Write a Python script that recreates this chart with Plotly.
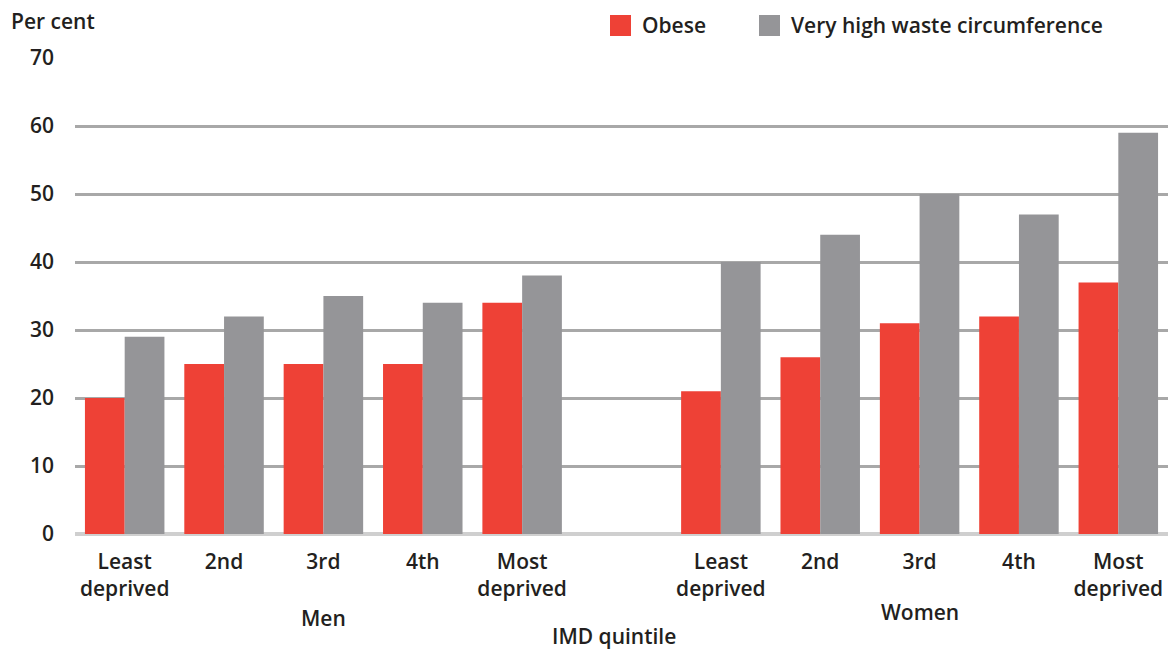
import plotly.graph_objects as go

# Quintile labels shared by both sexes
quintiles = ["Least<br>deprived", "2nd", "3rd", "4th", "Most<br>deprived"]
groups = ["Men", "Women"]

# Per cent of adults, by IMD quintile
men_obese = [20, 25, 25, 25, 34]
men_waist = [29, 32, 35, 34, 38]
women_obese = [21, 26, 31, 32, 37]
women_waist = [40, 44, 50, 47, 59]

series_names = ["Obese", "Very high waste circumference"]
y_ticks = [0, 10, 20, 30, 40, 50, 60, 70]

RED = "#EE4136"
GREY = "#959598"
TEXT = "#231F20"
FONT = "Open Sans"

# Men occupy slots 0-4, one empty slot, women occupy slots 6-10
men_x = list(range(len(quintiles)))
women_x = [len(quintiles) + 1 + i for i in range(len(quintiles))]
all_x = men_x + women_x

fig = go.Figure()
fig.add_trace(go.Bar(x=all_x, y=men_obese + women_obese, name=series_names[0],
                     marker=dict(color=RED, line=dict(width=0)), showlegend=False))
fig.add_trace(go.Bar(x=all_x, y=men_waist + women_waist, name=series_names[1],
                     marker=dict(color=GREY, line=dict(width=0)), showlegend=False))

W, H = 1173, 652
ml, mr, mt, mb = 75, 5, 58, 118
pw, ph = W - ml - mr, H - mt - mb

def px_x(p):
    return (p - ml) / pw

def px_y(p):
    return (H - mb - p) / ph

font = dict(family=FONT, size=21, color=TEXT, weight=600)

annotations = [
    dict(text="Per cent", xref="paper", yref="paper", x=px_x(9), y=px_y(21),
         xanchor="left", yanchor="middle", showarrow=False, font=font),
    dict(text="IMD quintile", xref="paper", yref="paper", x=px_x(614), y=px_y(651),
         xanchor="center", yanchor="bottom", showarrow=False, font=font,
         borderpad=0),
]
for name, xs, ypx in zip(groups, [men_x, women_x], [618, 612]):
    annotations.append(dict(text=name, xref="x", yref="paper", x=sum(xs) / len(xs),
                            y=px_y(ypx), xanchor="center", yanchor="middle",
                            showarrow=False, font=font))

# Legend: coloured swatches followed by series names
shapes = []
legend_items = [(series_names[0], RED, 610), (series_names[1], GREY, 759)]
for name, color, x0 in legend_items:
    shapes.append(dict(type="rect", xref="paper", yref="paper",
                       x0=px_x(x0), x1=px_x(x0 + 21), y0=px_y(36), y1=px_y(15),
                       fillcolor=color, line=dict(width=0)))
    annotations.append(dict(text=name, xref="paper", yref="paper", x=px_x(x0 + 30),
                            y=px_y(25), xanchor="left", yanchor="middle",
                            showarrow=False, font=font))

fig.update_layout(
    width=W, height=H,
    margin=dict(l=ml, r=mr, t=mt, b=mb),
    paper_bgcolor="white", plot_bgcolor="white",
    barmode="group", bargap=0.2, bargroupgap=0.0,
    font=font,
    annotations=annotations,
    shapes=shapes,
    xaxis=dict(range=[-0.5, 10.5], tickmode="array", tickvals=all_x,
               ticktext=quintiles * 2, showgrid=False, zeroline=False,
               showline=False, ticks="", ticklabelstandoff=13,
               tickfont=font, fixedrange=True),
    yaxis=dict(range=[0, 70], tickmode="array", tickvals=y_ticks,
               showgrid=True, gridcolor="#A8A8A8", gridwidth=2.5,
               zeroline=True, zerolinecolor="#CFCFCF", zerolinewidth=4,
               showline=False, ticks="", ticklabelstandoff=20,
               tickfont=font, fixedrange=True),
)

fig.write_html("out.html")
